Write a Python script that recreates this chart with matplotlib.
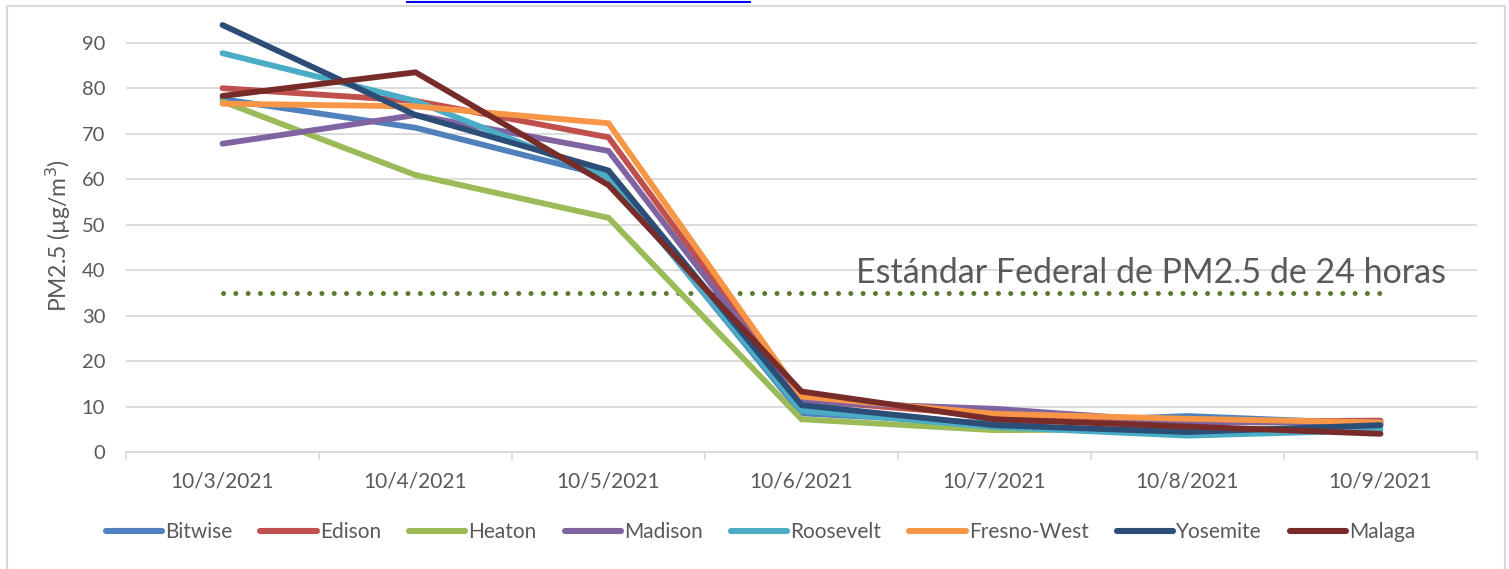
#!/usr/bin/env python3
"""PM2.5 daily averages at Fresno-area monitors, Oct 3-9 2021."""

import matplotlib

matplotlib.use("Agg")
import matplotlib.pyplot as plt
from matplotlib.lines import Line2D
from matplotlib.patches import Rectangle


DATES = ["10/3/2021", "10/4/2021", "10/5/2021", "10/6/2021",
         "10/7/2021", "10/8/2021", "10/9/2021"]

BITWISE = [77.6, 71.3, 60.6, 8.5, 6.3, 7.9, 6.2]
EDISON = [80.0, 77.2, 69.2, 11.4, 8.0, 6.6, 6.9]
HEATON = [77.1, 60.9, 51.5, 7.2, 4.8, 5.0, 5.4]
MADISON = [67.8, 74.1, 66.2, 11.0, 9.5, 6.5, 6.6]
ROOSEVELT = [87.7, 77.2, 60.3, 9.1, 5.5, 3.6, 4.8]
FRESNO_WEST = [76.6, 76.0, 72.3, 12.2, 8.4, 7.3, 6.5]
YOSEMITE = [93.9, 74.1, 61.9, 10.3, 5.9, 4.4, 5.9]
MALAGA = [78.3, 83.5, 58.7, 13.3, 7.2, 5.6, 4.0]

SERIES = [
    ("Bitwise", BITWISE, "#4F81BD"),
    ("Edison", EDISON, "#C0504D"),
    ("Heaton", HEATON, "#9BBB59"),
    ("Madison", MADISON, "#8064A2"),
    ("Roosevelt", ROOSEVELT, "#4BACC6"),
    ("Fresno-West", FRESNO_WEST, "#F79646"),
    ("Yosemite", YOSEMITE, "#2C4D75"),
    ("Malaga", MALAGA, "#772C2A"),
]

STANDARD = 35
STANDARD_LABEL = "Estándar Federal de PM2.5 de 24 horas"

TEXT = "#595959"
GRID = "#D9D9D9"


def main() -> None:
    plt.rcParams["font.family"] = ["Lato", "DejaVu Sans"]
    fig = plt.figure(figsize=(15.09, 5.69), dpi=100)
    W, H = 1509, 569
    left, right, top, bottom = 126, 1477, 20, 452
    ax = fig.add_axes([left / W, 1 - bottom / H, (right - left) / W, (bottom - top) / H])

    x = list(range(len(DATES)))
    ax.plot(x, [STANDARD] * len(x), color="#5B7A2E", lw=3.6,
            linestyle=(0, (0.01, 2.45)), dash_capstyle="round", zorder=2)
    ax.text(3.28, 37.2, STANDARD_LABEL, fontsize=24.5, color=TEXT, va="baseline", ha="left")

    for name, values, color in SERIES:
        ax.plot(x, values, color=color, lw=4.2, label=name, solid_capstyle="round",
                solid_joinstyle="miter", zorder=3)

    ax.set_xlim(-0.5, len(DATES) - 0.5)
    ax.set_ylim(0, 95)
    ax.set_yticks(range(0, 91, 10))
    ax.set_xticks(x)
    ax.set_xticklabels(DATES)
    ax.set_xticks([i - 0.5 for i in range(len(DATES) + 1)], minor=True)
    ax.tick_params(axis="x", which="major", length=0, pad=14, labelsize=15, labelcolor=TEXT)
    ax.tick_params(axis="x", which="minor", length=6, width=1.2, color=GRID)
    ax.tick_params(axis="y", length=0, pad=15, labelsize=14.5, labelcolor=TEXT)
    ax.grid(axis="y", color=GRID, lw=1.3)
    ax.set_axisbelow(True)
    for side in ("top", "right", "left"):
        ax.spines[side].set_visible(False)
    ax.spines["bottom"].set_color(GRID)
    ax.spines["bottom"].set_linewidth(1.3)
    ax.set_ylabel("PM2.5 (µg/m$^3$)", fontsize=16.5, color=TEXT, labelpad=6)

    leg = fig.legend(loc="center", bbox_to_anchor=(0.504, 1 - 532 / H), ncol=len(SERIES),
                     frameon=False, fontsize=15, labelcolor=TEXT, handlelength=2.7,
                     handletextpad=0.15, columnspacing=1.35)
    for line in leg.get_lines():
        line.set_linewidth(4.4)
        line.set_solid_capstyle("round")

    # chart frame and the link underline that sits above the chart
    fig.add_artist(Rectangle((7 / W, -0.05), (1505 - 7) / W, 1.05 - 6 / H,
                             transform=fig.transFigure, fill=False, ec=GRID, lw=1.5))
    fig.add_artist(Line2D([407 / W, 750 / W], [1 - 2 / H, 1 - 2 / H],
                          transform=fig.transFigure, color="#0000FF", lw=1.5))

    fig.savefig("out.png", dpi=100)
    plt.close(fig)


if __name__ == "__main__":
    main()
